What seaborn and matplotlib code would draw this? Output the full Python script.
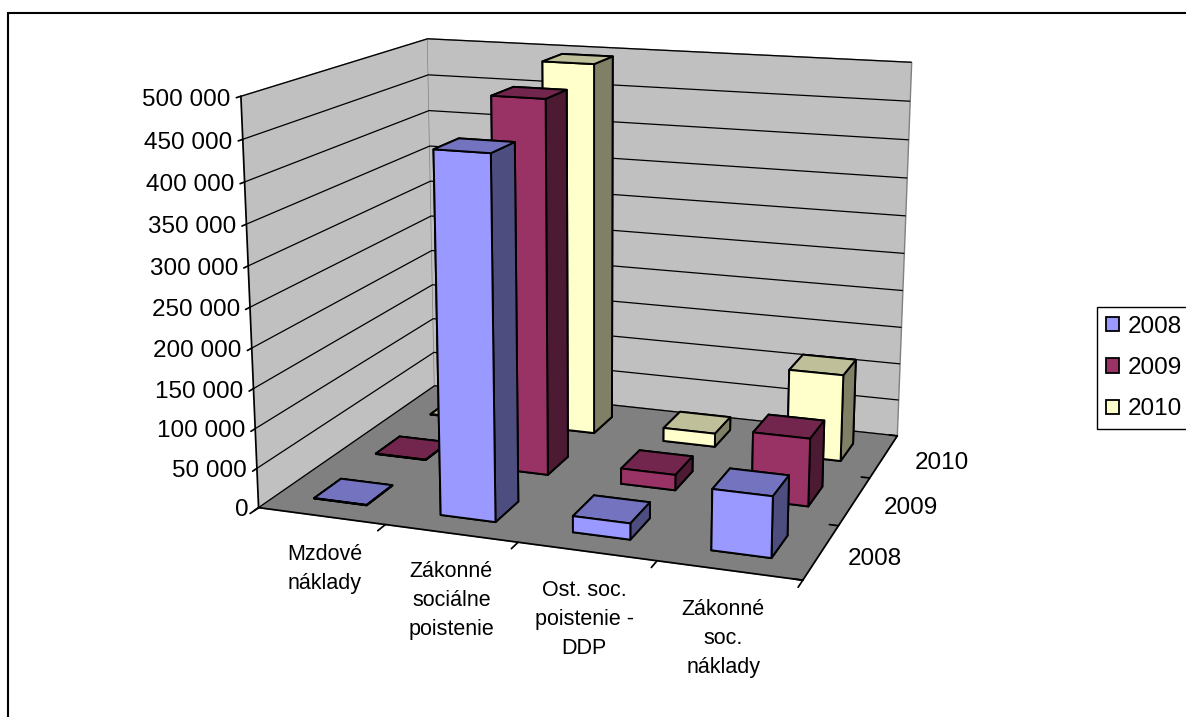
import numpy as np
import pandas as pd
import matplotlib
matplotlib.use('Agg')
import matplotlib.pyplot as plt
from matplotlib.patches import Rectangle
import seaborn as sns

categories = ['Mzdové\nnáklady', 'Zákonné\nsociálne\npoistenie', 'Ost. soc.\npoistenie -\nDDP', 'Zákonné\nsoc.\nnáklady']
years = ['2008', '2009', '2010']
values_2008 = [500, 443000, 20000, 74000]
values_2009 = [500, 478000, 20000, 86000]
values_2010 = [500, 496000, 18000, 115000]
y_ticks = [0, 50000, 100000, 150000, 200000, 250000, 300000, 350000, 400000, 450000, 500000]
y_labels = ['0', '50 000', '100 000', '150 000', '200 000', '250 000', '300 000', '350 000', '400 000', '450 000', '500 000']

sns.set_theme(style='white')
plt.rcParams['font.family'] = ['Liberation Sans', 'DejaVu Sans']
plt.rcParams['text.color'] = 'black'
plt.rcParams['xtick.color'] = 'black'
plt.rcParams['ytick.color'] = 'black'
palette = sns.color_palette(['#9999FF', '#993366', '#FFFFCC'])

df = pd.DataFrame({'2008': values_2008, '2009': values_2009, '2010': values_2010})
df = df.reset_index().melt(id_vars='index', var_name='year', value_name='value')
df['ypos'] = df['year'].map({y: i for i, y in enumerate(years)})

fig = plt.figure(figsize=(11.86, 7.17), dpi=100)
ax = fig.add_axes([0.103, 0.118, 0.78, 0.96], projection='3d')
ax.set_proj_type('persp', focal_length=0.55)
ax.view_init(elev=14.3, azim=-70.5)
ax.set_box_aspect((4.3, 3.35, 3.2), zoom=1.125)

w = 0.42
d = 0.42
for _, row in df.sort_values(['ypos', 'index'], ascending=[False, True]).iterrows():
    c = np.array(palette[int(row['ypos'])])
    # bottom, top, front, back, left, right
    faces = [c * 0.5, c * 0.75, c, c, c * 0.5, c * 0.5]
    ax.bar3d(row['index'] + 0.5 - w / 2, row['ypos'] + 0.5 - d / 2, 0, w, d, row['value'],
             color=faces, edgecolor='black', linewidth=1.4, shade=False)

ax.set_xlim(0, 4)
ax.set_ylim(0, 3)
ax.set_zlim(0, 500000)
ax.set_xticks(range(5))
ax.set_yticks(range(4))
ax.set_zticks(y_ticks)
ax.set_xticklabels([])
ax.set_yticklabels([])
ax.set_zticklabels([])

ax.xaxis.set_pane_color('#C0C0C0')
ax.yaxis.set_pane_color('#C0C0C0')
ax.zaxis.set_pane_color('#808080')
for a in (ax.xaxis, ax.yaxis, ax.zaxis):
    a.pane.set_edgecolor('#808080')
    a._axinfo['grid'].update(color='black', linewidth=0.9)
    a.line.set_color('black')
ax.xaxis._axinfo['grid'].update(linewidth=0)
ax.yaxis._axinfo['grid'].update(linewidth=0)
ax.xaxis._axinfo['tick'].update(inward_factor=0.5, outward_factor=0)
ax.yaxis._axinfo['tick'].update(inward_factor=0, outward_factor=0.2)
ax.zaxis._axinfo['tick'].update(inward_factor=0.25, outward_factor=0)
ax.zaxis.set_ticks_position('lower')

for val, lab in zip(y_ticks, y_labels):
    ax.text(-0.08, 0, val - 5000, lab, ha='right', va='center', fontsize=17.5)
for i, cat in enumerate(categories):
    ax.text(i * 0.945 + 0.76, -0.45, 0, cat, ha='center', va='top', fontsize=15.5, linespacing=1.5)
for i, yr in enumerate(years):
    ax.text(4.37 + 0.04 * i, i + 0.5, 0, yr, ha='center', va='center', fontsize=17.5)

handles = [Rectangle((0, 0), 1, 1, facecolor=c, edgecolor='black', linewidth=1.3) for c in palette]
fig.legend(handles, years, loc='center left', bbox_to_anchor=(1097 / 1186, 1 - 368 / 717), fontsize=17.5,
           handlelength=0.55, handleheight=0.55, handletextpad=0.35, labelspacing=0.8,
           frameon=True, fancybox=False, edgecolor='black', framealpha=1, borderpad=0.35, borderaxespad=0)

fig.add_artist(Rectangle((8 / 1186, -0.05), 1.1, 0.05 + (717 - 13) / 717, transform=fig.transFigure,
                         fill=False, edgecolor='black', linewidth=1.5))
fig.savefig('out.png', dpi=100)
